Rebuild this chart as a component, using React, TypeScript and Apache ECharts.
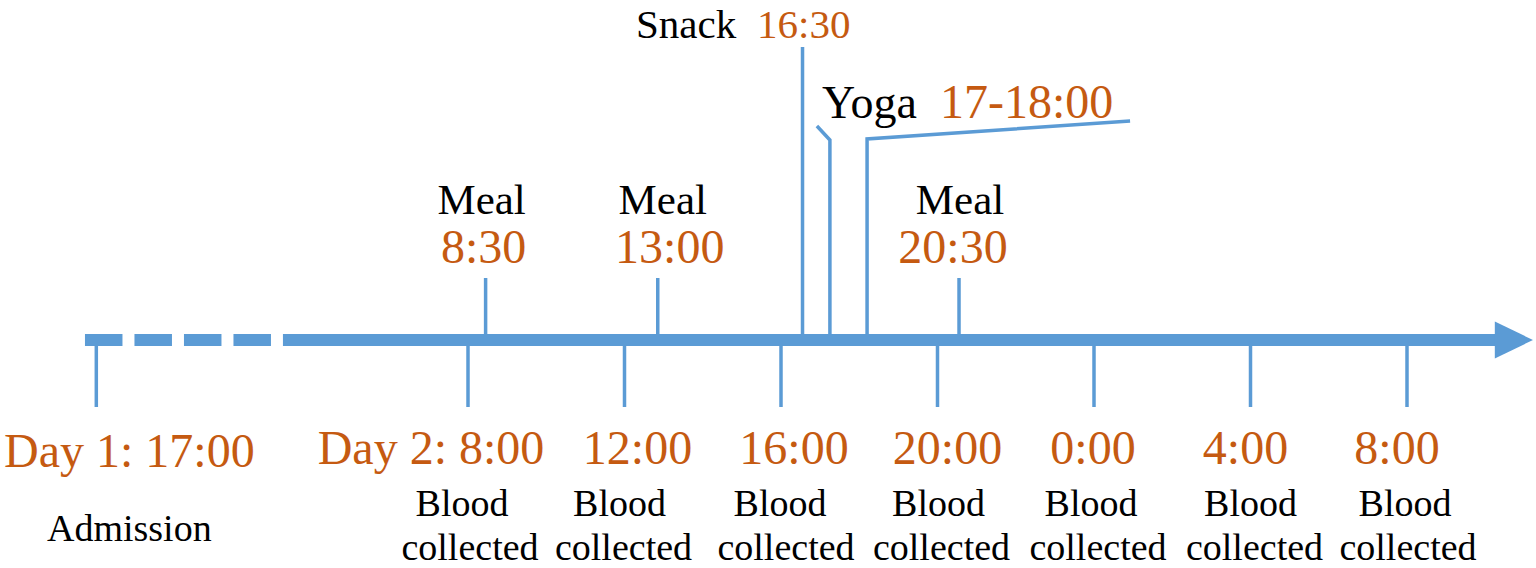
import React, { useEffect, useRef } from "react";
import * as echarts from "echarts";

// ---------- data (hours on a continuous clock; Day 2 08:00 = 8) ----------
const sampleHours = [8, 12, 16, 20, 24, 28, 32];
const sampleTimes = ["Day 2: 8:00", "12:00", "16:00", "20:00", "0:00", "4:00", "8:00"];
const sampleNote = ["Blood", "collected"];
const admissionHours = [-1.5]; // placed before the axis break
const admissionTimes = ["Day 1: 17:00"];
const admissionNote = "Admission";
const mealHours = [8.45, 12.85, 20.55];
const mealTimes = ["8:30", "13:00", "20:30"];
const mealNote = "Meal";
const snackHours = [16.55];
const snackTimes = ["16:30"];
const snackNote = "Snack";
const yogaHours = [17.25, 18.2];
const yogaTimes = ["17-18:00"];
const yogaNote = "Yoga";
const axisBreak = [-1.79, 3.27]; // dashed part of the time line
const axisEnd = [34.27, 35.22]; // shaft end, arrow tip

// ---------- layout / style ----------
const FONT = '"Liberation Serif", "Times New Roman", serif';
const BLUE = "#5B9BD5";
const ORANGE = "#C55A11";
const BLACK = "#000000";
const X_MIN = 8 - 468 / 39.125;
const X_MAX = 8 + (1536 - 468) / 39.125;
const AXIS_TOP = 334;
const AXIS_BOTTOM = 346;
const AXIS_MID = 340;
const TICK_W = 3.5;
const sampleTimeDx = [-37, 13, 13, 10, -1, -5, -10];
const bloodDx = [-6, -5, -1, 1, -3, 0, -2];
const collectedDx = [2, -1, 5, 4, 4, 4, 1];
const mealNoteDx = [-4, 5, 1];
const mealTimeDx = [-2, 12, -6];

const mid = (baseline: number, size: number) => baseline - 0.3375 * size;

const txt = (text: string, x: number, baseline: number, size: number, fill: string, align = "center") => ({
  type: "text",
  silent: true,
  style: {
    text,
    x,
    y: mid(baseline, size),
    align,
    verticalAlign: "middle",
    fill,
    fontSize: size,
    fontFamily: FONT,
  },
});

const vline = (x: number, y1: number, y2: number) => ({
  type: "line",
  silent: true,
  shape: { x1: x, y1, x2: x, y2 },
  style: { stroke: BLUE, lineWidth: TICK_W },
});

export default function App() {
  const ref = useRef<HTMLDivElement>(null);

  useEffect(() => {
    if (!ref.current) return;
    const chart = echarts.init(ref.current, undefined, { renderer: "svg" });

    const axisSeries = {
      type: "custom",
      silent: true,
      data: [[axisBreak[0], axisBreak[1], axisEnd[0], axisEnd[1]]],
      renderItem: (_p: any, api: any) => {
        const xa = api.coord([api.value(0), AXIS_MID])[0];
        const xb = api.coord([api.value(1), AXIS_MID])[0];
        const xc = api.coord([api.value(2), AXIS_MID])[0];
        const xd = api.coord([api.value(3), AXIS_MID])[0];
        return {
          type: "group",
          children: [
            {
              type: "line",
              shape: { x1: xa, y1: AXIS_MID, x2: xb, y2: AXIS_MID },
              style: { stroke: BLUE, lineWidth: AXIS_BOTTOM - AXIS_TOP, lineDash: [37.5, 12], lineCap: "butt" },
            },
            {
              type: "rect",
              shape: { x: xb, y: AXIS_TOP, width: xc - xb, height: AXIS_BOTTOM - AXIS_TOP },
              style: { fill: BLUE },
            },
            {
              type: "polygon",
              shape: { points: [[xc - 1, 321.5], [xd, AXIS_MID], [xc - 1, 358.5]] },
              style: { fill: BLUE },
            },
          ],
        };
      },
    };

    const admissionSeries = {
      type: "custom",
      silent: true,
      data: admissionHours.map((h) => [h, AXIS_MID]),
      renderItem: (p: any, api: any) => {
        const x = api.coord([api.value(0), AXIS_MID])[0];
        return {
          type: "group",
          children: [
            vline(x, AXIS_BOTTOM, 407),
            txt(admissionTimes[p.dataIndex], x + 33, 467, 48, ORANGE),
            txt(admissionNote, x + 33, 541, 38, BLACK),
          ],
        };
      },
    };

    const sampleSeries = {
      type: "custom",
      silent: true,
      data: sampleHours.map((h) => [h, AXIS_MID]),
      renderItem: (p: any, api: any) => {
        const i = p.dataIndex;
        const x = api.coord([api.value(0), AXIS_MID])[0];
        return {
          type: "group",
          children: [
            vline(x, AXIS_BOTTOM, 407),
            txt(sampleTimes[i], x + sampleTimeDx[i], 464, 48, ORANGE),
            txt(sampleNote[0], x + bloodDx[i], 516, 38, BLACK),
            txt(sampleNote[1], x + collectedDx[i], 560, 38, BLACK),
          ],
        };
      },
    };

    const mealSeries = {
      type: "custom",
      silent: true,
      data: mealHours.map((h) => [h, AXIS_MID]),
      renderItem: (p: any, api: any) => {
        const i = p.dataIndex;
        const x = api.coord([api.value(0), AXIS_MID])[0];
        return {
          type: "group",
          children: [
            vline(x, 278, AXIS_TOP),
            txt(mealNote, x + mealNoteDx[i], 214, 43, BLACK),
            txt(mealTimes[i], x + mealTimeDx[i], 263, 48, ORANGE),
          ],
        };
      },
    };

    const snackSeries = {
      type: "custom",
      silent: true,
      data: snackHours.map((h) => [h, AXIS_MID]),
      renderItem: (p: any, api: any) => {
        const x = api.coord([api.value(0), AXIS_MID])[0];
        return {
          type: "group",
          children: [
            vline(x, 47, AXIS_TOP),
            txt(snackNote, x - 166.5, 37.5, 41, BLACK, "left"),
            txt(snackTimes[p.dataIndex], x - 45.5, 37.5, 41, ORANGE, "left"),
          ],
        };
      },
    };

    const yogaSeries = {
      type: "custom",
      silent: true,
      data: [[yogaHours[0], yogaHours[1]]],
      renderItem: (_p: any, api: any) => {
        const x1 = api.coord([api.value(0), AXIS_MID])[0];
        const x2 = api.coord([api.value(1), AXIS_MID])[0];
        return {
          type: "group",
          children: [
            {
              type: "polyline",
              shape: { points: [[x1, AXIS_TOP], [x1, 140], [x1 - 13, 126]] },
              style: { stroke: BLUE, lineWidth: TICK_W, fill: null },
            },
            {
              type: "polyline",
              shape: { points: [[x2, AXIS_TOP], [x2, 139], [x2 + 263, 121]] },
              style: { stroke: BLUE, lineWidth: TICK_W, fill: null },
            },
            txt(yogaNote, x1 - 8, 118, 46, BLACK, "left"),
            txt(yogaTimes[0], x1 + 110, 118, 48, ORANGE, "left"),
          ],
        };
      },
    };

    chart.setOption({
      animation: false,
      backgroundColor: "#ffffff",
      grid: { left: 0, right: 0, top: 0, bottom: 0, containLabel: false },
      xAxis: { type: "value", min: X_MIN, max: X_MAX, show: false },
      yAxis: { type: "value", min: 0, max: 568, inverse: true, show: false },
      series: [axisSeries, admissionSeries, sampleSeries, mealSeries, snackSeries, yogaSeries],
    } as any);

    return () => chart.dispose();
  }, []);

  return (
    <div
      ref={ref}
      style={{ position: "absolute", left: 0, top: 0, width: 1536, height: 568, background: "#fff" }}
    />
  );
}
